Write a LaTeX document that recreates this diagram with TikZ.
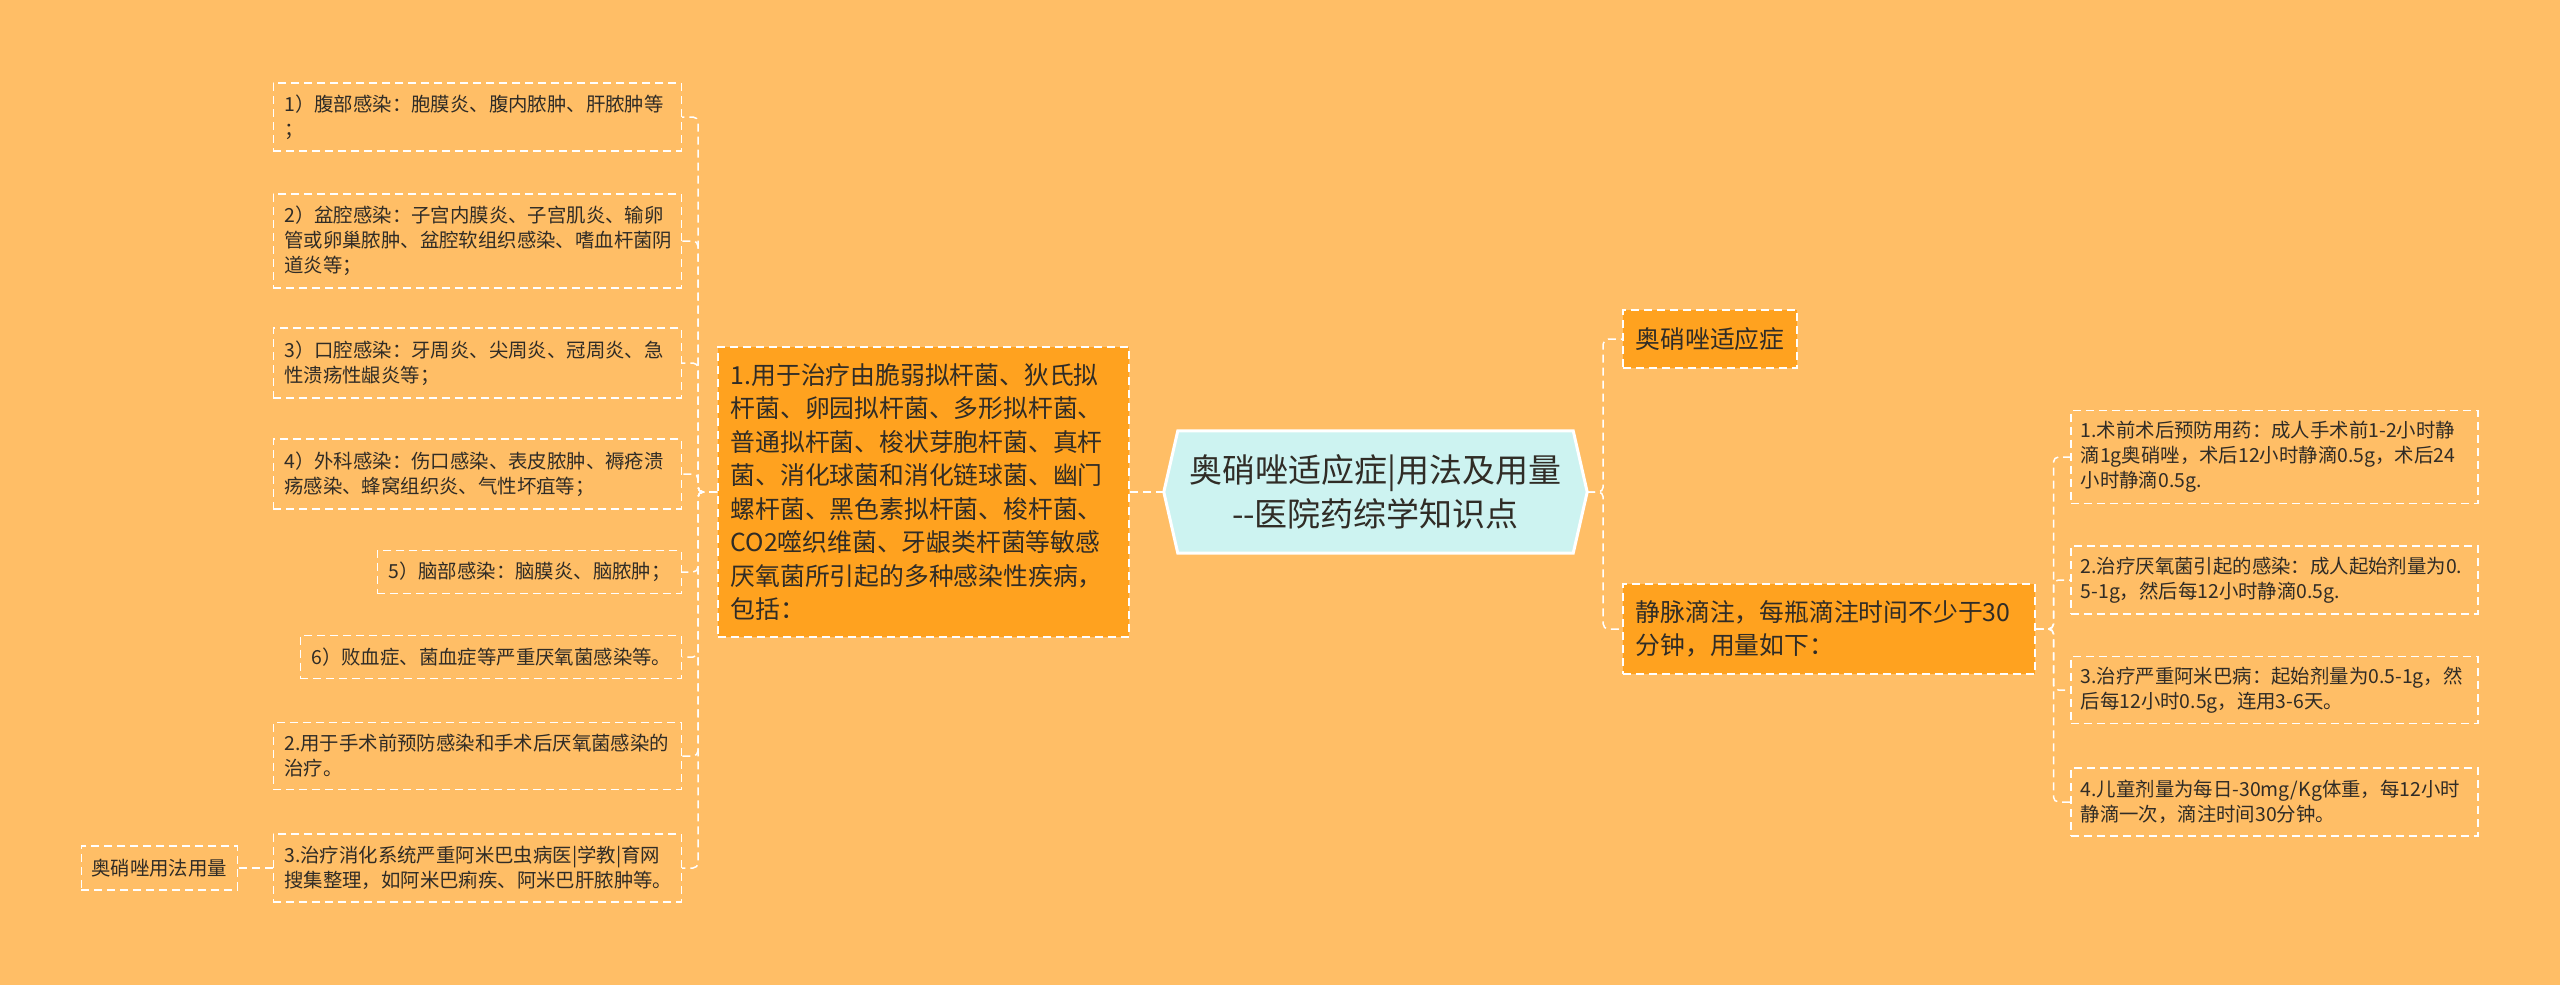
\documentclass[tikz,border=0pt]{standalone}
\usepackage{fontspec}
\setmainfont{Noto Sans CJK SC}
\usetikzlibrary{calc}
\definecolor{bg}{HTML}{FFBE66}
\definecolor{fillor}{HTML}{FFA21F}
\definecolor{ctrfill}{HTML}{CDF3F1}
\definecolor{txt}{HTML}{302C26}
\newcommand\leaffont{\fontsize{19.4}{25}\selectfont}
\newcommand\midfont{\fontsize{24.8}{33.5}\selectfont}
\newcommand\titlefont{\fontsize{33}{44}\selectfont}
\tikzset{
  dsh/.style={draw=white, line width=1.5pt, dash pattern=on 8pt off 5pt},
  leafbox/.style={dsh, align=left, font=\leaffont, text=txt, inner xsep=11pt, inner ysep=0pt},
  filledbox/.style={dsh, fill=fillor, align=left, font=\midfont, text=txt, inner xsep=13pt, inner ysep=0pt},
  conn/.style={draw=white, line width=1.5pt, dash pattern=on 8pt off 5pt, rounded corners=5pt},
}
\begin{document}
\begin{tikzpicture}[x=1pt,y=-1pt]
\fill[bg] (0,0) rectangle (2560,985);
\useasboundingbox (0,0) rectangle (2560,985);

% left leaves
\node[leafbox, anchor=east, text width=386pt, minimum height=68pt] (L1) at (682,117) {1）腹部感染：胞膜炎、腹内脓肿、肝脓肿等\\；};
\node[leafbox, anchor=east, text width=386pt, minimum height=94pt] (L2) at (682,241) {2）盆腔感染：子宫内膜炎、子宫肌炎、输卵\\管或卵巢脓肿、盆腔软组织感染、嗜血杆菌阴\\道炎等；};
\node[leafbox, anchor=east, text width=386pt, minimum height=70pt] (L3) at (682,363) {3）口腔感染：牙周炎、尖周炎、冠周炎、急\\性溃疡性龈炎等；};
\node[leafbox, anchor=east, text width=386pt, minimum height=70pt] (L4) at (682,474) {4）外科感染：伤口感染、表皮脓肿、褥疮溃\\疡感染、蜂窝组织炎、气性坏疽等；};
\node[leafbox, anchor=east, text width=282pt, minimum height=43pt] (L5) at (682,572) {5）脑部感染：脑膜炎、脑脓肿；};
\node[leafbox, anchor=east, text width=359pt, minimum height=43pt] (L6) at (682,657) {6）败血症、菌血症等严重厌氧菌感染等。};
\node[leafbox, anchor=east, text width=386pt, minimum height=67pt] (L7) at (682,756) {2.用于手术前预防感染和手术后厌氧菌感染的\\治疗。};
\node[leafbox, anchor=east, text width=386pt, minimum height=68pt] (L8) at (682,868) {3.治疗消化系统严重阿米巴虫病医|学教|育网\\搜集整理，如阿米巴痢疾、阿米巴肝脓肿等。};
\node[leafbox, anchor=east, inner xsep=10pt, text width=136pt, minimum height=44pt] (L9) at (238,868) {奥硝唑用法用量};

% main left topic
\node[filledbox, anchor=west, text width=385pt, minimum height=290pt] (M1) at (717,492) {1.用于治疗由脆弱拟杆菌、狄氏拟\\杆菌、卵园拟杆菌、多形拟杆菌、\\普通拟杆菌、梭状芽胞杆菌、真杆\\菌、消化球菌和消化链球菌、幽门\\螺杆菌、黑色素拟杆菌、梭杆菌、\\CO2噬织维菌、牙龈类杆菌等敏感\\厌氧菌所引起的多种感染性疾病，\\包括：};

% centre
\node[minimum width=423pt, minimum height=122pt, inner sep=0pt] (ctr) at (1375.5,492) {};
\draw[white, line width=3pt, fill=ctrfill] (ctr.west) -- ($(ctr.north west)+(14,0)$) -- ($(ctr.north east)+(-14,0)$) -- (ctr.east) -- ($(ctr.south east)+(-14,0)$) -- ($(ctr.south west)+(14,0)$) -- cycle;
\node[font=\titlefont, text=txt, align=center] (ctrtext) at (ctr.center) {奥硝唑适应症|用法及用量\\-{}-医院药综学知识点};

% right topics
\node[filledbox, anchor=west, text width=148pt, minimum height=58pt] (Ra) at (1622,339) {奥硝唑适应症};
\node[filledbox, anchor=west, text width=386pt, minimum height=90pt] (Rb) at (1622,629) {静脉滴注，每瓶滴注时间不少于30\\分钟，用量如下：};

% right leaves
\node[leafbox, anchor=west, inner xsep=10pt, text width=387pt, minimum height=93pt] (R1) at (2070,457) {1.术前术后预防用药：成人手术前1-2小时静\\滴1g奥硝唑，术后12小时静滴0.5g，术后24\\小时静滴0.5g.};
\node[leafbox, anchor=west, inner xsep=10pt, text width=387pt, minimum height=68pt] (R2) at (2070,580) {2.治疗厌氧菌引起的感染：成人起始剂量为0.\\5-1g，然后每12小时静滴0.5g.};
\node[leafbox, anchor=west, inner xsep=10pt, text width=387pt, minimum height=67pt] (R3) at (2070,690) {3.治疗严重阿米巴病：起始剂量为0.5-1g，然\\后每12小时0.5g，连用3-6天。};
\node[leafbox, anchor=west, inner xsep=10pt, text width=387pt, minimum height=68pt] (R4) at (2070,802) {4.儿童剂量为每日-30mg/Kg体重，每12小时\\静滴一次，滴注时间30分钟。};

% connectors
\foreach \n in {L1,L2,L3,L4,L5,L6,L7,L8}
  \draw[conn] (M1.west) -- ++(-19,0) |- (\n.east);
\draw[conn] (L8.west) -- (L9.east);
\draw[conn] (ctr.west) -- (M1.east);
\foreach \n in {Ra,Rb}
  \draw[conn] (ctr.east) -- ++(16,0) |- (\n.west);
\foreach \n in {R1,R2,R3,R4}
  \draw[conn] (Rb.east) -- ++(18,0) |- (\n.west);
\end{tikzpicture}
\end{document}
